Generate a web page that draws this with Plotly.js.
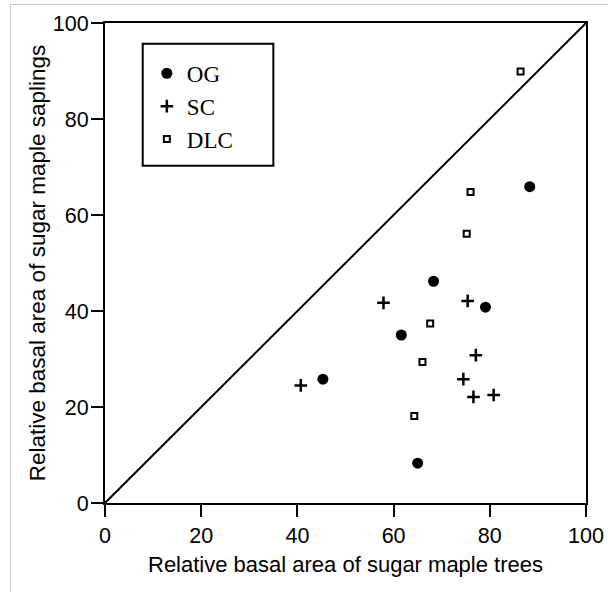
<!DOCTYPE html>
<html>
<head>
<meta charset="utf-8">
<script src="https://cdn.plot.ly/plotly-3.0.1.min.js"></script>
<style>
html,body{margin:0;padding:0;background:#fff;}
#wrap{position:relative;width:608px;height:592px;overflow:hidden;}
#chart{position:absolute;left:0;top:0;width:608px;height:592px;}
#frame{position:absolute;left:10px;top:4px;width:620px;height:620px;border-left:1px solid #c8c8c8;border-top:1px solid #c8c8c8;pointer-events:none;}
</style>
</head>
<body>
<div id="wrap"><div id="chart"></div><div id="frame"></div></div>
<script>
// Data
const ogX = [68.3, 79.1, 61.6, 45.3, 88.3, 65.0];
const ogY = [46.2, 40.8, 35.0, 25.8, 65.9, 8.3];
const scX = [57.9, 75.4, 77.1, 74.5, 76.6, 80.8, 40.7];
const scY = [41.7, 42.1, 30.8, 25.8, 22.1, 22.5, 24.5];
const dlcX = [67.6, 66.0, 64.3, 86.4, 76.0, 75.2];
const dlcY = [37.4, 29.4, 18.1, 89.9, 64.8, 56.1];
const lineX = [0, 100];
const lineY = [0, 100];
const tickVals = [0, 20, 40, 60, 80, 100];
const xTitle = "Relative basal area of sugar maple trees";
const yTitle = "Relative basal area of sugar maple saplings";

const traces = [
  {x: lineX, y: lineY, mode: "lines", line: {color: "#000", width: 2}, showlegend: false, hoverinfo: "skip"},
  {x: ogX, y: ogY, mode: "markers", name: "OG", marker: {symbol: "circle", size: 11, color: "#000"}},
  {x: scX, y: scY, mode: "markers", name: "SC", marker: {symbol: "cross-thin", size: 9, color: "#000", line: {color: "#000", width: 2.5}}},
  {x: dlcX, y: dlcY, mode: "markers", name: "DLC", marker: {symbol: "square-open", size: 6, color: "#000", line: {color: "#000", width: 2}}}
];

const axisCommon = {
  range: [0, 100], tickvals: tickVals, ticktext: tickVals.map(String),
  showgrid: false, zeroline: false, showline: true, linecolor: "#000", linewidth: 2,
  mirror: true, ticks: "outside", ticklen: 12, tickwidth: 2, tickcolor: "#000",
  tickfont: {family: "Liberation Sans, Arial, sans-serif", size: 21.5, color: "#000"},
  automargin: false, fixedrange: true
};

const layout = {
  width: 608, height: 592,
  margin: {l: 105, r: 22, t: 23, b: 89},
  paper_bgcolor: "#fff", plot_bgcolor: "#fff",
  xaxis: Object.assign({}, axisCommon, {title: {text: xTitle, standoff: 10, font: {family: "Liberation Sans, Arial, sans-serif", size: 22, color: "#000"}}}),
  yaxis: Object.assign({}, axisCommon, {ticklabelstandoff: -2, title: {text: yTitle, standoff: 1, font: {family: "Liberation Sans, Arial, sans-serif", size: 22.5, color: "#000"}}}),
  showlegend: true,
  legend: {x: 0.087, y: 0.94, xanchor: "left", yanchor: "top", bgcolor: "rgba(0,0,0,0)", borderwidth: 0,
    font: {family: "Liberation Serif, Times New Roman, serif", size: 23, color: "#000"}},
  shapes: [
    {type: "rect", xref: "paper", yref: "paper", x0: 0.0784, x1: 0.35, y0: 0.7027, y1: 0.957,
     line: {color: "#000", width: 2}, fillcolor: "rgba(0,0,0,0)"}
  ]
};

Plotly.newPlot("chart", traces, layout, {staticPlot: true, displayModeBar: false});
</script>
</body>
</html>
